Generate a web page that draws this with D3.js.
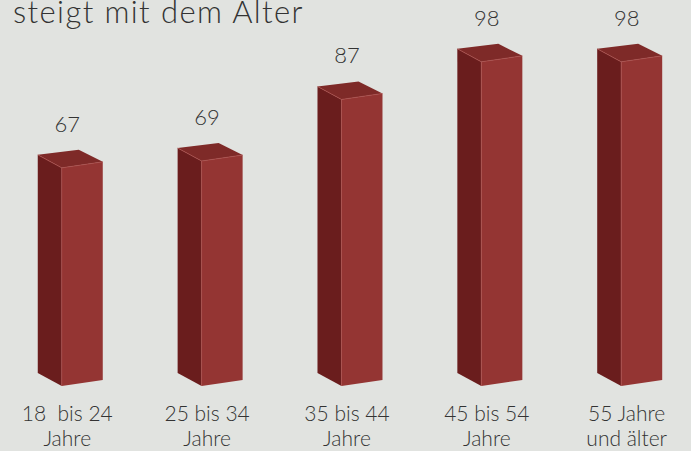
<!DOCTYPE html>
<html><head><meta charset="utf-8">
<script src="https://cdn.jsdelivr.net/npm/d3@7"></script>
<style>
html,body{margin:0;padding:0;background:#e1e3e0;}
svg{display:block;}
text{font-family:Lato,"Noto Sans",sans-serif;fill:#333;}
</style></head>
<body>
<svg id="chart" width="691" height="451"></svg>
<script>
const title = "steigt mit dem Alter";
const categories = ["18-24","25-34","35-44","45-54","55+"];
const labelLine1 = ["18  bis 24","25 bis 34","35 bis 44","45 bis 54","55 Jahre"];
const labelLine2 = ["Jahre","Jahre","Jahre","Jahre","und älter"];
const values = [67, 69, 87, 98, 98];

const W = 691, H = 451;
const svg = d3.select("#chart");
svg.append("rect").attr("width", W).attr("height", H).attr("fill", "#e1e3e0");

const x = d3.scaleBand().domain(categories).range([0, 700]).paddingInner(0.535).paddingOuter(0.27);
const y = d3.scaleLinear().domain([0, 100]).range([397, 55]);
const base = 386;           // front-bottom edge
const depthX = 24, depthY = 13;  // left face skew
const backX = 41, backY = 6;    // receding side

const colTop = "#7e2a28", colFront = "#943533", colLeft = "#6a1d1d", colEdge = "#b0524f";

const g = svg.append("g");
categories.forEach((c, i) => {
  const left = x(c);
  const fx = left + depthX;          // front edge x
  const rx = fx + backX;             // right edge x
  const ty = y(values[i]);           // front-top y
  const bar = g.append("g");
  bar.append("path").attr("fill", colLeft)
    .attr("d", `M${left},${ty - depthY} L${fx},${ty} L${fx},${base} L${left},${base - depthY} Z`);
  bar.append("path").attr("fill", colFront)
    .attr("d", `M${fx},${ty} L${rx},${ty - backY} L${rx},${base - backY} L${fx},${base} Z`);
  bar.append("path").attr("fill", colTop)
    .attr("d", `M${left},${ty - depthY} L${left + backX},${ty - depthY - backY + 1} L${rx},${ty - backY} L${fx},${ty} Z`);
  bar.append("path").attr("fill", "none").attr("stroke", colEdge).attr("stroke-width", 0.7)
    .attr("d", `M${left},${ty - depthY} L${fx},${ty} L${rx},${ty - backY} M${fx},${ty} L${fx},${base}`);

  const cx = left + (depthX + backX) / 2 - 3;
  g.append("text").attr("x", cx).attr("y", ty - 36)
    .attr("text-anchor", "middle").attr("font-size", 22).attr("font-weight", 300)
    .text(values[i]);
  g.append("text").attr("x", cx).attr("y", 421)
    .attr("text-anchor", "middle").attr("font-size", 21).attr("font-weight", 300)
    .attr("xml:space", "preserve").style("white-space", "pre")
    .text(labelLine1[i]);
  g.append("text").attr("x", cx).attr("y", 446)
    .attr("text-anchor", "middle").attr("font-size", 21).attr("font-weight", 300)
    .text(labelLine2[i]);
});

svg.append("text").attr("x", 13).attr("y", 23)
  .attr("font-size", 31).attr("font-weight", 300)
  .attr("letter-spacing", 1.4)
  .text(title);
</script>
</body></html>
